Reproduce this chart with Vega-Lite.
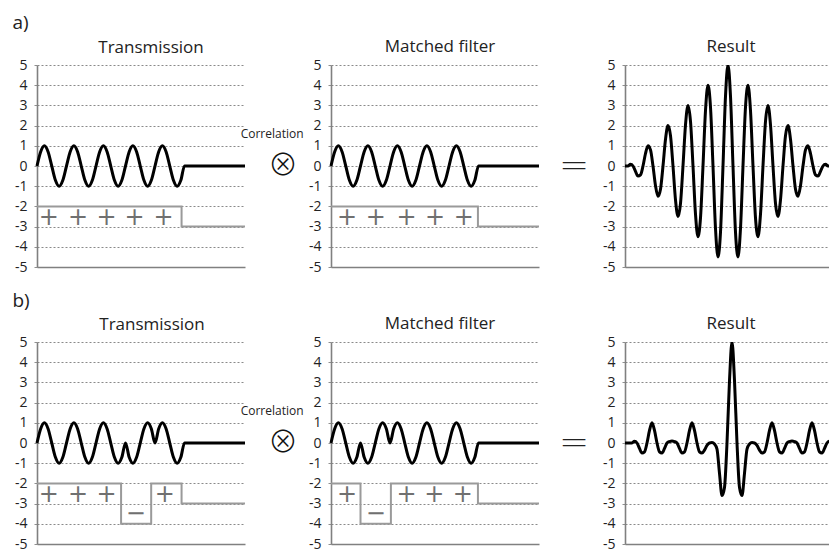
{
  "$schema": "https://vega.github.io/schema/vega-lite/v6.json",
  "padding": {"left": 12, "top": 13, "right": 0, "bottom": 0},
  "config": {
    "view": {"stroke": null},
    "font": "Open Sans",
    "title": {"font": "Open Sans", "fontSize": 17, "fontWeight": "normal", "color": "#222", "anchor": "middle", "frame": "group", "baseline": "bottom"},
    "axis": {"labelFont": "Open Sans", "labelFontSize": 14, "labelColor": "#222", "domainColor": "#808080", "domainWidth": 1.6, "tickColor": "#909090", "tickSize": 3, "gridColor": "#8a8a8a", "gridDash": [2, 2], "gridWidth": 1, "title": null}
  },
  "datasets": {
    "wavePlus": [
      {"t":0,"v":0},{"t":0.125,"v":0.707},{"t":0.25,"v":1},{"t":0.375,"v":0.707},{"t":0.5,"v":0},{"t":0.625,"v":-0.707},{"t":0.75,"v":-1},{"t":0.875,"v":-0.707},
      {"t":1,"v":0},{"t":1.125,"v":0.707},{"t":1.25,"v":1},{"t":1.375,"v":0.707},{"t":1.5,"v":0},{"t":1.625,"v":-0.707},{"t":1.75,"v":-1},{"t":1.875,"v":-0.707},
      {"t":2,"v":0},{"t":2.125,"v":0.707},{"t":2.25,"v":1},{"t":2.375,"v":0.707},{"t":2.5,"v":0},{"t":2.625,"v":-0.707},{"t":2.75,"v":-1},{"t":2.875,"v":-0.707},
      {"t":3,"v":0},{"t":3.125,"v":0.707},{"t":3.25,"v":1},{"t":3.375,"v":0.707},{"t":3.5,"v":0},{"t":3.625,"v":-0.707},{"t":3.75,"v":-1},{"t":3.875,"v":-0.707},
      {"t":4,"v":0},{"t":4.125,"v":0.707},{"t":4.25,"v":1},{"t":4.375,"v":0.707},{"t":4.5,"v":0},{"t":4.625,"v":-0.707},{"t":4.75,"v":-1},{"t":4.875,"v":-0.707},
      {"t":5,"v":0},{"t":7.05,"v":0}
    ],
    "waveTxB": [
      {"t":0,"v":0},{"t":0.125,"v":0.707},{"t":0.25,"v":1},{"t":0.375,"v":0.707},{"t":0.5,"v":0},{"t":0.625,"v":-0.707},{"t":0.75,"v":-1},{"t":0.875,"v":-0.707},
      {"t":1,"v":0},{"t":1.125,"v":0.707},{"t":1.25,"v":1},{"t":1.375,"v":0.707},{"t":1.5,"v":0},{"t":1.625,"v":-0.707},{"t":1.75,"v":-1},{"t":1.875,"v":-0.707},
      {"t":2,"v":0},{"t":2.125,"v":0.707},{"t":2.25,"v":1},{"t":2.375,"v":0.707},{"t":2.5,"v":0},{"t":2.625,"v":-0.707},{"t":2.75,"v":-1},{"t":2.875,"v":-0.707},
      {"t":3,"v":0},{"t":3.125,"v":-0.707},{"t":3.25,"v":-1},{"t":3.375,"v":-0.707},{"t":3.5,"v":0},{"t":3.625,"v":0.707},{"t":3.75,"v":1},{"t":3.875,"v":0.707},
      {"t":4,"v":0},{"t":4.125,"v":0.707},{"t":4.25,"v":1},{"t":4.375,"v":0.707},{"t":4.5,"v":0},{"t":4.625,"v":-0.707},{"t":4.75,"v":-1},{"t":4.875,"v":-0.707},
      {"t":5,"v":0},{"t":7.05,"v":0}
    ],
    "waveMfB": [
      {"t":0,"v":0},{"t":0.125,"v":0.707},{"t":0.25,"v":1},{"t":0.375,"v":0.707},{"t":0.5,"v":0},{"t":0.625,"v":-0.707},{"t":0.75,"v":-1},{"t":0.875,"v":-0.707},
      {"t":1,"v":0},{"t":1.125,"v":-0.707},{"t":1.25,"v":-1},{"t":1.375,"v":-0.707},{"t":1.5,"v":0},{"t":1.625,"v":0.707},{"t":1.75,"v":1},{"t":1.875,"v":0.707},
      {"t":2,"v":0},{"t":2.125,"v":0.707},{"t":2.25,"v":1},{"t":2.375,"v":0.707},{"t":2.5,"v":0},{"t":2.625,"v":-0.707},{"t":2.75,"v":-1},{"t":2.875,"v":-0.707},
      {"t":3,"v":0},{"t":3.125,"v":0.707},{"t":3.25,"v":1},{"t":3.375,"v":0.707},{"t":3.5,"v":0},{"t":3.625,"v":-0.707},{"t":3.75,"v":-1},{"t":3.875,"v":-0.707},
      {"t":4,"v":0},{"t":4.125,"v":0.707},{"t":4.25,"v":1},{"t":4.375,"v":0.707},{"t":4.5,"v":0},{"t":4.625,"v":-0.707},{"t":4.75,"v":-1},{"t":4.875,"v":-0.707},
      {"t":5,"v":0},{"t":7.05,"v":0}
    ],
    "chipsTxA": [{"t":0,"v":-2},{"t":4.9,"v":-3},{"t":7.05,"v":-3}],
    "chipsTxB": [{"t":0,"v":-2},{"t":2.85,"v":-4},{"t":3.87,"v":-2},{"t":4.9,"v":-3},{"t":7.05,"v":-3}],
    "chipsMfA": [{"t":0,"v":-2},{"t":4.98,"v":-3},{"t":7.05,"v":-3}],
    "chipsMfB": [{"t":0,"v":-2},{"t":1,"v":-4},{"t":2.03,"v":-2},{"t":4.98,"v":-3},{"t":7.05,"v":-3}],
    "signsTxA": [{"t":0.4,"v":-2.55,"s":"+"},{"t":1.39,"v":-2.55,"s":"+"},{"t":2.36,"v":-2.55,"s":"+"},{"t":3.31,"v":-2.55,"s":"+"},{"t":4.29,"v":-2.55,"s":"+"}],
    "signsTxB": [{"t":0.4,"v":-2.55,"s":"+"},{"t":1.39,"v":-2.55,"s":"+"},{"t":2.36,"v":-2.55,"s":"+"},{"t":3.35,"v":-3.5,"s":"−"},{"t":4.33,"v":-2.55,"s":"+"}],
    "signsMfA": [{"t":0.54,"v":-2.55,"s":"+"},{"t":1.52,"v":-2.55,"s":"+"},{"t":2.56,"v":-2.55,"s":"+"},{"t":3.53,"v":-2.55,"s":"+"},{"t":4.5,"v":-2.55,"s":"+"}],
    "signsMfB": [{"t":0.54,"v":-2.55,"s":"+"},{"t":1.52,"v":-3.5,"s":"−"},{"t":2.56,"v":-2.55,"s":"+"},{"t":3.5,"v":-2.55,"s":"+"},{"t":4.47,"v":-2.55,"s":"+"}],
    "resultA": [
      {"t":-5.4,"v":0},{"t":-5,"v":0},{"t":-4.875,"v":0.088},{"t":-4.75,"v":0},{"t":-4.625,"v":-0.265},{"t":-4.5,"v":-0.5},{"t":-4.375,"v":-0.442},{"t":-4.25,"v":0},
      {"t":-4.125,"v":0.619},{"t":-4,"v":1},{"t":-3.875,"v":0.795},{"t":-3.75,"v":0},{"t":-3.625,"v":-0.972},{"t":-3.5,"v":-1.5},{"t":-3.375,"v":-1.149},{"t":-3.25,"v":0},
      {"t":-3.125,"v":1.326},{"t":-3,"v":2},{"t":-2.875,"v":1.503},{"t":-2.75,"v":0},{"t":-2.625,"v":-1.679},{"t":-2.5,"v":-2.5},{"t":-2.375,"v":-1.856},{"t":-2.25,"v":0},
      {"t":-2.125,"v":2.033},{"t":-2,"v":3},{"t":-1.875,"v":2.21},{"t":-1.75,"v":0},{"t":-1.625,"v":-2.386},{"t":-1.5,"v":-3.5},{"t":-1.375,"v":-2.563},{"t":-1.25,"v":0},
      {"t":-1.125,"v":2.74},{"t":-1,"v":4},{"t":-0.875,"v":2.917},{"t":-0.75,"v":0},{"t":-0.625,"v":-3.094},{"t":-0.5,"v":-4.5},{"t":-0.375,"v":-3.27},{"t":-0.25,"v":0},
      {"t":-0.125,"v":3.447},{"t":0,"v":5},{"t":0.125,"v":3.447},
      {"t":0.25,"v":0},{"t":0.375,"v":-3.27},{"t":0.5,"v":-4.5},{"t":0.625,"v":-3.094},{"t":0.75,"v":0},{"t":0.875,"v":2.917},{"t":1,"v":4},{"t":1.125,"v":2.74},
      {"t":1.25,"v":0},{"t":1.375,"v":-2.563},{"t":1.5,"v":-3.5},{"t":1.625,"v":-2.386},{"t":1.75,"v":0},{"t":1.875,"v":2.21},{"t":2,"v":3},{"t":2.125,"v":2.033},
      {"t":2.25,"v":0},{"t":2.375,"v":-1.856},{"t":2.5,"v":-2.5},{"t":2.625,"v":-1.679},{"t":2.75,"v":0},{"t":2.875,"v":1.503},{"t":3,"v":2},{"t":3.125,"v":1.326},
      {"t":3.25,"v":0},{"t":3.375,"v":-1.149},{"t":3.5,"v":-1.5},{"t":3.625,"v":-0.972},{"t":3.75,"v":0},{"t":3.875,"v":0.795},{"t":4,"v":1},{"t":4.125,"v":0.619},
      {"t":4.25,"v":0},{"t":4.375,"v":-0.442},{"t":4.5,"v":-0.5},{"t":4.625,"v":-0.265},{"t":4.75,"v":0},{"t":4.875,"v":0.088},{"t":5,"v":0},{"t":5.4,"v":0}
    ],
    "resultB": [
      {"t":-5.4,"v":0},{"t":-5,"v":0},{"t":-4.875,"v":0.09},{"t":-4.75,"v":0},{"t":-4.625,"v":-0.27},{"t":-4.5,"v":-0.5},{"t":-4.375,"v":-0.44},{"t":-4.25,"v":0},
      {"t":-4.125,"v":0.62},{"t":-4,"v":1},{"t":-3.875,"v":0.62},{"t":-3.75,"v":0},{"t":-3.625,"v":-0.44},{"t":-3.5,"v":-0.5},{"t":-3.375,"v":-0.27},{"t":-3.25,"v":0},
      {"t":-3.125,"v":0.07},{"t":-3,"v":0.1},{"t":-2.875,"v":0.07},{"t":-2.75,"v":0},{"t":-2.625,"v":-0.27},{"t":-2.5,"v":-0.5},{"t":-2.375,"v":-0.44},{"t":-2.25,"v":0},
      {"t":-2.125,"v":0.62},{"t":-2,"v":1},{"t":-1.875,"v":0.62},{"t":-1.75,"v":0},{"t":-1.625,"v":-0.44},{"t":-1.5,"v":-0.5},{"t":-1.375,"v":-0.35},{"t":-1.25,"v":-0.12},
      {"t":-1.125,"v":0},{"t":-1,"v":0.02},{"t":-0.875,"v":-0.05},{"t":-0.75,"v":-0.3},{"t":-0.625,"v":-1.5},{"t":-0.5,"v":-2.6},{"t":-0.375,"v":-2.2},{"t":-0.25,"v":0},
      {"t":-0.125,"v":3.09},{"t":0,"v":5},{"t":0.125,"v":3.09},
      {"t":0.25,"v":0},{"t":0.375,"v":-2.2},{"t":0.5,"v":-2.6},{"t":0.625,"v":-1.5},{"t":0.75,"v":-0.3},{"t":0.875,"v":-0.05},{"t":1,"v":0.02},{"t":1.125,"v":0},
      {"t":1.25,"v":-0.12},{"t":1.375,"v":-0.35},{"t":1.5,"v":-0.5},{"t":1.625,"v":-0.44},{"t":1.75,"v":0},{"t":1.875,"v":0.62},{"t":2,"v":1},{"t":2.125,"v":0.62},
      {"t":2.25,"v":0},{"t":2.375,"v":-0.44},{"t":2.5,"v":-0.5},{"t":2.625,"v":-0.27},{"t":2.75,"v":0},{"t":2.875,"v":0.07},{"t":3,"v":0.1},{"t":3.125,"v":0.07},
      {"t":3.25,"v":0},{"t":3.375,"v":-0.27},{"t":3.5,"v":-0.5},{"t":3.625,"v":-0.44},{"t":3.75,"v":0},{"t":3.875,"v":0.62},{"t":4,"v":1},{"t":4.125,"v":0.62},
      {"t":4.25,"v":0},{"t":4.375,"v":-0.44},{"t":4.5,"v":-0.5},{"t":4.625,"v":-0.27},{"t":4.75,"v":0},{"t":4.875,"v":0.09},{"t":5,"v":0},{"t":5.4,"v":0}
    ],
    "notesRowA": [{"t":-0.56,"v":7.08,"s":"a)"}],
    "notesRowB": [{"t":-0.54,"v":7.03,"s":"b)"}],
    "opCorrA": [{"t":7.97,"v":1.56,"s":"Correlation"}],
    "opCorrB": [{"t":7.97,"v":1.56,"s":"Correlation"}],
    "opTimes": [{"t":8.34,"v":0,"s":"⊗"}],
    "opEquals": [{"t":8.24,"v":0,"s":"="}]
  },
  "columns": 3,
  "spacing": {"row": 75, "column": 86},
  "bounds": "flush",
  "concat": [
    {
      "width": 208, "height": 202,
      "title": {"text": "Transmission", "dx": 10, "offset": -43},
      "encoding": {
        "x": {"field": "t", "type": "quantitative", "scale": {"domain": [0, 7.05], "nice": false, "zero": false}, "axis": {"labels": false, "ticks": false, "grid": false, "domain": true}},
        "y": {"field": "v", "type": "quantitative", "scale": {"domain": [-5, 5], "nice": false}, "axis": {"values": [-5,-4,-3,-2,-1,0,1,2,3,4,5], "grid": true, "labelPadding": 7, "labelExpr": "'' + datum.value"}}
      },
      "layer": [
        {"data": {"name": "wavePlus"}, "mark": {"type": "line", "interpolate": "monotone", "color": "#000", "strokeWidth": 3}},
        {"data": {"name": "chipsTxA"}, "mark": {"type": "line", "interpolate": "step-after", "color": "#9a9a9a", "strokeWidth": 2}},
        {"data": {"name": "signsTxA"}, "mark": {"type": "text", "font": "DejaVu Sans", "fontSize": 24, "color": "#707070", "baseline": "middle"}, "encoding": {"text": {"field": "s"}}},
        {"data": {"name": "notesRowA"}, "mark": {"type": "text", "fontSize": 19, "color": "#222", "baseline": "middle"}, "encoding": {"text": {"field": "s"}}},
        {"data": {"name": "opCorrA"}, "mark": {"type": "text", "fontSize": 12, "color": "#222", "baseline": "middle"}, "encoding": {"text": {"field": "s"}}},
        {"data": {"name": "opTimes"}, "mark": {"type": "text", "font": "Noto Sans CJK JP, DejaVu Sans", "fontWeight": 300, "fontSize": 30, "color": "#111", "baseline": "middle"}, "encoding": {"text": {"field": "s"}}}
      ]
    },
    {
      "width": 208, "height": 202,
      "title": {"text": "Matched filter", "dx": 5, "offset": 2},
      "encoding": {
        "x": {"field": "t", "type": "quantitative", "scale": {"domain": [0, 7.05], "nice": false, "zero": false}, "axis": {"labels": false, "ticks": false, "grid": false, "domain": true}},
        "y": {"field": "v", "type": "quantitative", "scale": {"domain": [-5, 5], "nice": false}, "axis": {"values": [-5,-4,-3,-2,-1,0,1,2,3,4,5], "grid": true, "labelPadding": 7, "labelExpr": "'' + datum.value"}}
      },
      "layer": [
        {"data": {"name": "wavePlus"}, "mark": {"type": "line", "interpolate": "monotone", "color": "#000", "strokeWidth": 3}},
        {"data": {"name": "chipsMfA"}, "mark": {"type": "line", "interpolate": "step-after", "color": "#9a9a9a", "strokeWidth": 2}},
        {"data": {"name": "signsMfA"}, "mark": {"type": "text", "font": "DejaVu Sans", "fontSize": 24, "color": "#707070", "baseline": "middle"}, "encoding": {"text": {"field": "s"}}},
        {"data": {"name": "opEquals"}, "mark": {"type": "text", "font": "DejaVu Sans", "fontWeight": 200, "fontSize": 36, "color": "#222", "baseline": "middle"}, "encoding": {"text": {"field": "s"}}}
      ]
    },
    {
      "width": 204, "height": 202,
      "title": {"text": "Result", "dx": 4, "offset": 2},
      "encoding": {
        "x": {"field": "t", "type": "quantitative", "scale": {"domain": [-5.15, 5.05], "nice": false, "zero": false}, "axis": {"labels": false, "ticks": false, "grid": false, "domain": true}},
        "y": {"field": "v", "type": "quantitative", "scale": {"domain": [-5, 5], "nice": false}, "axis": {"values": [-5,-4,-3,-2,-1,0,1,2,3,4,5], "grid": true, "labelPadding": 7, "labelExpr": "'' + datum.value"}}
      },
      "layer": [
        {"data": {"name": "resultA"}, "mark": {"type": "line", "interpolate": "monotone", "color": "#000", "strokeWidth": 3, "clip": true}}
      ]
    },
    {
      "width": 208, "height": 202,
      "title": {"text": "Transmission", "dx": 11, "offset": -42},
      "encoding": {
        "x": {"field": "t", "type": "quantitative", "scale": {"domain": [0, 7.05], "nice": false, "zero": false}, "axis": {"labels": false, "ticks": false, "grid": false, "domain": true}},
        "y": {"field": "v", "type": "quantitative", "scale": {"domain": [-5, 5], "nice": false}, "axis": {"values": [-5,-4,-3,-2,-1,0,1,2,3,4,5], "grid": true, "labelPadding": 7, "labelExpr": "'' + datum.value"}}
      },
      "layer": [
        {"data": {"name": "waveTxB"}, "mark": {"type": "line", "interpolate": "monotone", "color": "#000", "strokeWidth": 3}},
        {"data": {"name": "chipsTxB"}, "mark": {"type": "line", "interpolate": "step-after", "color": "#9a9a9a", "strokeWidth": 2}},
        {"data": {"name": "signsTxB"}, "mark": {"type": "text", "font": "DejaVu Sans", "fontSize": 24, "color": "#707070", "baseline": "middle"}, "encoding": {"text": {"field": "s"}}},
        {"data": {"name": "notesRowB"}, "mark": {"type": "text", "fontSize": 19, "color": "#222", "baseline": "middle"}, "encoding": {"text": {"field": "s"}}},
        {"data": {"name": "opCorrB"}, "mark": {"type": "text", "fontSize": 12, "color": "#222", "baseline": "middle"}, "encoding": {"text": {"field": "s"}}},
        {"data": {"name": "opTimes"}, "mark": {"type": "text", "font": "Noto Sans CJK JP, DejaVu Sans", "fontWeight": 300, "fontSize": 30, "color": "#111", "baseline": "middle"}, "encoding": {"text": {"field": "s"}}}
      ]
    },
    {
      "width": 208, "height": 202,
      "title": {"text": "Matched filter", "dx": 5, "offset": 2},
      "encoding": {
        "x": {"field": "t", "type": "quantitative", "scale": {"domain": [0, 7.05], "nice": false, "zero": false}, "axis": {"labels": false, "ticks": false, "grid": false, "domain": true}},
        "y": {"field": "v", "type": "quantitative", "scale": {"domain": [-5, 5], "nice": false}, "axis": {"values": [-5,-4,-3,-2,-1,0,1,2,3,4,5], "grid": true, "labelPadding": 7, "labelExpr": "'' + datum.value"}}
      },
      "layer": [
        {"data": {"name": "waveMfB"}, "mark": {"type": "line", "interpolate": "monotone", "color": "#000", "strokeWidth": 3}},
        {"data": {"name": "chipsMfB"}, "mark": {"type": "line", "interpolate": "step-after", "color": "#9a9a9a", "strokeWidth": 2}},
        {"data": {"name": "signsMfB"}, "mark": {"type": "text", "font": "DejaVu Sans", "fontSize": 24, "color": "#707070", "baseline": "middle"}, "encoding": {"text": {"field": "s"}}},
        {"data": {"name": "opEquals"}, "mark": {"type": "text", "font": "DejaVu Sans", "fontWeight": 200, "fontSize": 36, "color": "#222", "baseline": "middle"}, "encoding": {"text": {"field": "s"}}}
      ]
    },
    {
      "width": 204, "height": 202,
      "title": {"text": "Result", "dx": 4, "offset": 2},
      "encoding": {
        "x": {"field": "t", "type": "quantitative", "scale": {"domain": [-5.35, 4.85], "nice": false, "zero": false}, "axis": {"labels": false, "ticks": false, "grid": false, "domain": true}},
        "y": {"field": "v", "type": "quantitative", "scale": {"domain": [-5, 5], "nice": false}, "axis": {"values": [-5,-4,-3,-2,-1,0,1,2,3,4,5], "grid": true, "labelPadding": 7, "labelExpr": "'' + datum.value"}}
      },
      "layer": [
        {"data": {"name": "resultB"}, "mark": {"type": "line", "interpolate": "monotone", "color": "#000", "strokeWidth": 3, "clip": true}}
      ]
    }
  ]
}
